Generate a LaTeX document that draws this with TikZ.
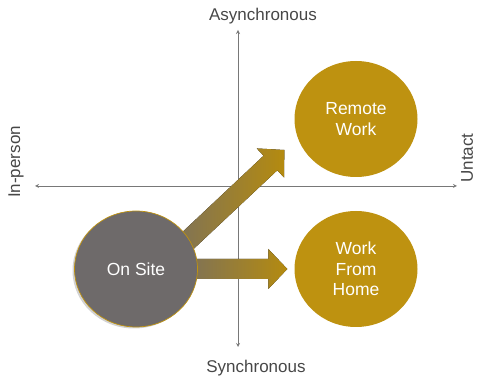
\documentclass[tikz,border=0pt]{standalone}
\usepackage{fontspec}
\setmainfont{Liberation Sans}
\usetikzlibrary{shapes.geometric, calc, backgrounds, shadows}
\tikzset{>=stealth}
\definecolor{gold}{RGB}{190,146,16}
\definecolor{slate}{RGB}{110,106,106}
\definecolor{axisgray}{RGB}{120,120,120}
\tikzset{
  spot/.style = {ellipse, minimum width=123pt, minimum height=116pt, inner sep=0pt,
                 text=white, align=center, font=\fontsize{17.5}{20.5}\selectfont},
  axislabel/.style = {text=black!72, inner sep=0pt, font=\fontsize{17}{20}\selectfont},
  axisline/.style = {draw=axisgray, line width=0.8pt, <->},
  fatarrow/.style = {left color=slate!80!gold, right color=gold!95!black}
}
\newcommand{\bigarrow}[2]{%
  \fill[fatarrow] ($(#1)!10pt!90:(#2)$) -- ($(#2)!19pt!(#1)!10pt!-90:(#1)$)
    -- ($(#2)!19pt!(#1)!20pt!-90:(#1)$) -- (#2) -- ($(#2)!19pt!(#1)!20pt!90:(#1)$)
    -- ($(#2)!19pt!(#1)!10pt!90:(#1)$) -- ($(#1)!10pt!-90:(#2)$) -- cycle;}

\begin{document}
\begin{tikzpicture}[x=1pt, y=1pt]
    \useasboundingbox (0,0) rectangle (477,377);
    \node[spot, fill=gold] (remote) at (356,258) {Remote\\Work};
    \node[spot, fill=gold] (home) at (356,108) {Work\\From\\Home};
    \node[spot, fill=slate, draw=gold, line width=0.7pt,
          drop shadow={shadow xshift=-2pt, shadow yshift=-1.5pt, fill=black!50, opacity=0.35}]
          (onsite) at (136,108) {On Site};
    \node[axislabel] (async) at (263,361) {Asynchronous};
    \node[axislabel] (sync) at (256,9) {Synchronous};
    \node[axislabel, rotate=90] (inperson) at (16,215) {In-person};
    \node[axislabel, rotate=90] (untact) at (467,219) {Untact};
    \coordinate (top) at (238,347);
    \coordinate (bottom) at (238,30);
    \coordinate (left) at (35,191);
    \coordinate (right) at (457,191);
    \coordinate (dstart) at ([shift={(44,21)}]onsite.center);
    \coordinate (dtip) at ([shift={(-10,-31)}]remote.west);
    \coordinate (hstart) at ([xshift=-12pt]onsite.east);
    \coordinate (htip) at ([xshift=-7pt]home.west);
    \begin{scope}[on background layer]
        \draw[axisline] (left) -- (right);
        \draw[axisline] (bottom) -- (top);
        \bigarrow{dstart}{dtip}
        \bigarrow{hstart}{htip}
    \end{scope}
\end{tikzpicture}
\end{document}
